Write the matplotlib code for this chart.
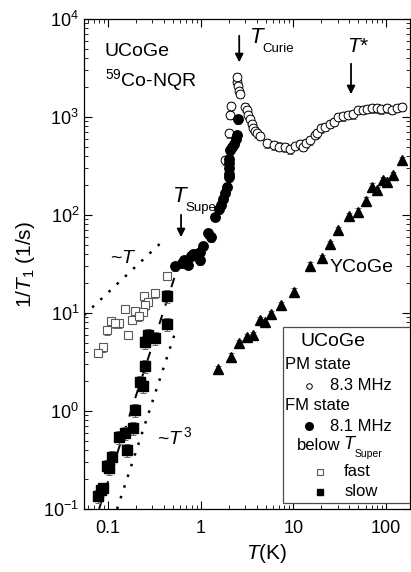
import numpy as np
import matplotlib
matplotlib.use("Agg")
import matplotlib.pyplot as plt
from matplotlib.patches import Rectangle

plt.rcParams['font.family'] = ['Liberation Sans', 'DejaVu Sans']
plt.rcParams['mathtext.fontset'] = 'custom'
plt.rcParams['mathtext.rm'] = 'Liberation Sans'
plt.rcParams['mathtext.it'] = 'Liberation Sans:italic'
plt.rcParams['mathtext.bf'] = 'Liberation Sans:bold'

# UCoGe, PM state (8.3 MHz), open circles
pm_T = [1.83, 2.0, 2.09, 2.12, 2.44, 2.48, 2.5, 2.57, 2.65, 3.0, 3.13, 3.26,
        3.4, 3.55, 3.7, 3.85, 4.0, 4.4, 5.15, 6.2, 7.0, 8.1, 9.2, 10.4, 11.8,
        12.8, 13.5, 15.1, 17.1, 18.1, 19.7, 21.9, 24.8, 27.4, 30.5, 34.5, 39,
        44, 50, 57, 62, 70, 79, 89, 103, 115, 130, 150]
pm_rate = [360, 680, 1050, 1300, 2290, 2540, 2070, 1850, 1720, 1255, 1180, 1050,
           950, 850, 780, 725, 680, 645, 540, 515, 500, 490, 470, 510, 525,
           500, 540, 580, 655, 680, 765, 795, 850, 895, 1010, 1020, 1050,
           1070, 1180, 1180, 1215, 1230, 1230, 1200, 1230, 1180, 1245, 1270]

# UCoGe, FM state (8.1 MHz), filled circles
fm_T = [2.55, 2.48, 2.4, 2.28, 2.15, 2.07, 2.03, 2.03, 2.0, 2.0, 2.0, 1.9,
        1.83, 1.73, 1.65, 1.58, 1.43, 1.21, 1.28, 1.05, 0.98, 0.89, 0.82,
        0.785, 0.97, 0.66, 0.62, 0.73, 0.53]
fm_rate = [950, 655, 590, 535, 498, 460, 370, 336, 299, 262, 243, 192,
           166, 145, 126, 114, 96, 65, 59, 48.6, 42, 40, 40,
           38, 34.7, 34.7, 32, 31, 30]

# below T_Super, fast component (open squares)
fast_T = [0.43, 0.32, 0.245, 0.27, 0.25, 0.236, 0.194, 0.152, 0.183, 0.218,
          0.163, 0.13, 0.107, 0.118, 0.098, 0.088, 0.077]
fast_rate = [23.9, 15.9, 14.9, 13.0, 12.0, 10.3, 10.5, 11.1, 8.5, 9.3,
             6.0, 7.85, 8.3, 7.85, 6.7, 4.47, 3.93]

# below T_Super, slow component (filled squares)
slow_T = [0.43, 0.43, 0.27, 0.32, 0.25, 0.25, 0.219, 0.238, 0.194, 0.184,
          0.152, 0.132, 0.162, 0.11, 0.098, 0.102, 0.089, 0.083, 0.077]
slow_rate = [14.9, 7.7, 6.0, 5.5, 5.1, 2.88, 1.99, 1.8, 1.02, 0.665,
             0.6, 0.54, 0.40, 0.34, 0.275, 0.26, 0.162, 0.156, 0.136]

# YCoGe (filled triangles)
y_T = [1.55, 2.1, 2.6, 3.13, 3.63, 4.37, 4.94, 5.7, 7.3, 10.2, 15.1, 20.2,
       24.8, 30.5, 39.8, 50, 60, 70, 79, 92, 101, 119, 147]
y_rate = [2.67, 3.58, 4.9, 5.7, 5.97, 8.5, 8.1, 9.7, 12.0, 16.5, 30.4, 36.6,
          50.6, 70, 98, 108, 140, 195, 180, 227, 219, 257, 363]

# relative error bars
pm_err, fm_err, fast_err, slow_err, y_err = 0.1, 0.1, 0.1, 0.15, 0.08

# guide lines (endpoints)
lineT_T, lineT_rate = [0.055, 0.42], [9.5, 58]
lineT3_T, lineT3_rate = [0.125, 0.52], [0.1, 6.0]
dash_T, dash_rate = [0.08, 0.55], [0.1, 27]

fig = plt.figure(figsize=(4.11, 5.72), dpi=100)
ax = fig.add_axes([84/411, 1 - 509/572, 326/411, 490/572])

def series(T, r, err, **kw):
    r = np.asarray(r)
    ax.errorbar(T, r, yerr=err * r, fmt='none', ecolor='0.4', elinewidth=0.7,
                capsize=2, capthick=0.7, zorder=2)
    ax.plot(T, r, linestyle='none', zorder=3, **kw)

ax.plot(lineT_T, lineT_rate, color='k', lw=1.8, ls=(0, (1, 3.5)), zorder=1)
ax.plot(lineT3_T, lineT3_rate, color='k', lw=1.8, ls=(0, (1, 3.5)), zorder=1)
ax.plot(dash_T, dash_rate, color='k', lw=1.4, ls=(0, (5, 5)), zorder=1)

series(pm_T, pm_rate, pm_err, marker='o', ms=6.3, mfc='white', mec='k', mew=0.7)
series(fm_T, fm_rate, fm_err, marker='o', ms=6.8, mfc='k', mec='k')
series(fast_T, fast_rate, fast_err, marker='s', ms=6.2, mfc='white', mec='0.35', mew=0.8)
series(slow_T, slow_rate, slow_err, marker='s', ms=6.5, mfc='k', mec='k')
series(y_T, y_rate, y_err, marker='^', ms=7, mfc='k', mec='k')

ax.set_xscale('log')
ax.set_yscale('log')
ax.set_xlim(0.055, 181)
ax.set_ylim(0.1, 1e4)
ax.set_xticks([0.1, 1, 10, 100])
ax.set_xticklabels(['0.1', '1', '10', '100'])
ax.tick_params(which='both', direction='in', top=True, right=True, labelsize=13)
ax.tick_params(which='major', length=6, width=0.8)
ax.tick_params(which='minor', length=3, width=0.6)
ax.tick_params(axis='x', pad=8)
for s in ax.spines.values():
    s.set_linewidth(0.9)

ax.set_xlabel(r'$T$(K)', fontsize=15)
ax.xaxis.set_label_coords(0.56, -0.068)
ax.set_ylabel(r'$1/T_1$ (1/s)', fontsize=15)
ax.yaxis.set_label_coords(-0.145, 0.5)

# annotations
ax.text(0.064, 0.933, 'UCoGe', transform=ax.transAxes, fontsize=14, va='center')
ax.text(0.064, 0.876, r'$^{59}$Co-NQR', transform=ax.transAxes, fontsize=14, va='center')
arrow = dict(arrowstyle='-|>', color='k', lw=1.3, mutation_scale=12)
ax.annotate('', xy=(2.6, 3390), xytext=(2.6, 7200), arrowprops=arrow)
ax.annotate('', xy=(41.8, 1600), xytext=(41.8, 3730), arrowprops=arrow)
ax.annotate('', xy=(0.613, 55.6), xytext=(0.613, 107), arrowprops=arrow)
ax.text(3.35, 6400, r'$T$', fontsize=16, va='center')
ax.text(4.65, 4900, 'Curie', fontsize=9.5, va='center')
ax.text(37.8, 5180, r'$T$*', fontsize=15, va='center')
ax.text(0.49, 155, r'$T$', fontsize=16, va='center')
ax.text(0.69, 118, 'Super', fontsize=9.5, va='center')
ax.text(0.105, 36.4, r'~$T$', fontsize=14, va='center')
ax.text(0.338, 0.543, r'~$T^{\,3}$', fontsize=14, va='center')
ax.text(24.8, 28.8, 'YCoGe', fontsize=14, va='center')

# legend box, drawn by hand in axes coordinates
ax.add_patch(Rectangle((0.61, 0.012), 0.39, 0.359, transform=ax.transAxes,
                       fc='white', ec='0.3', lw=0.9, zorder=5))
kw = dict(transform=ax.transAxes, va='center', zorder=6)
ax.text(0.663, 0.341, 'UCoGe', fontsize=14, **kw)
ax.text(0.617, 0.295, 'PM state', fontsize=12, **kw)
ax.text(0.755, 0.252, '8.3 MHz', fontsize=12, **kw)
ax.text(0.617, 0.211, 'FM state', fontsize=12, **kw)
ax.text(0.755, 0.169, '8.1 MHz', fontsize=12, **kw)
ax.text(0.654, 0.129, 'below', fontsize=12, **kw)
ax.text(0.793, 0.131, r'$T$', fontsize=13, **kw)
ax.text(0.83, 0.112, 'Super', fontsize=7.5, **kw)
ax.text(0.798, 0.076, 'fast', fontsize=12, **kw)
ax.text(0.798, 0.035, 'slow', fontsize=12, **kw)
mk = dict(transform=ax.transAxes, ls='none', zorder=6, clip_on=False)
ax.plot([0.691], [0.252], marker='o', ms=4, mfc='white', mec='k', mew=0.7, **mk)
ax.plot([0.691], [0.169], marker='o', ms=5.5, mfc='k', mec='k', **mk)
ax.plot([0.724], [0.076], marker='s', ms=4.5, mfc='white', mec='0.35', mew=0.8, **mk)
ax.plot([0.724], [0.035], marker='s', ms=5, mfc='k', mec='k', **mk)

fig.savefig('out.png', dpi=100)
